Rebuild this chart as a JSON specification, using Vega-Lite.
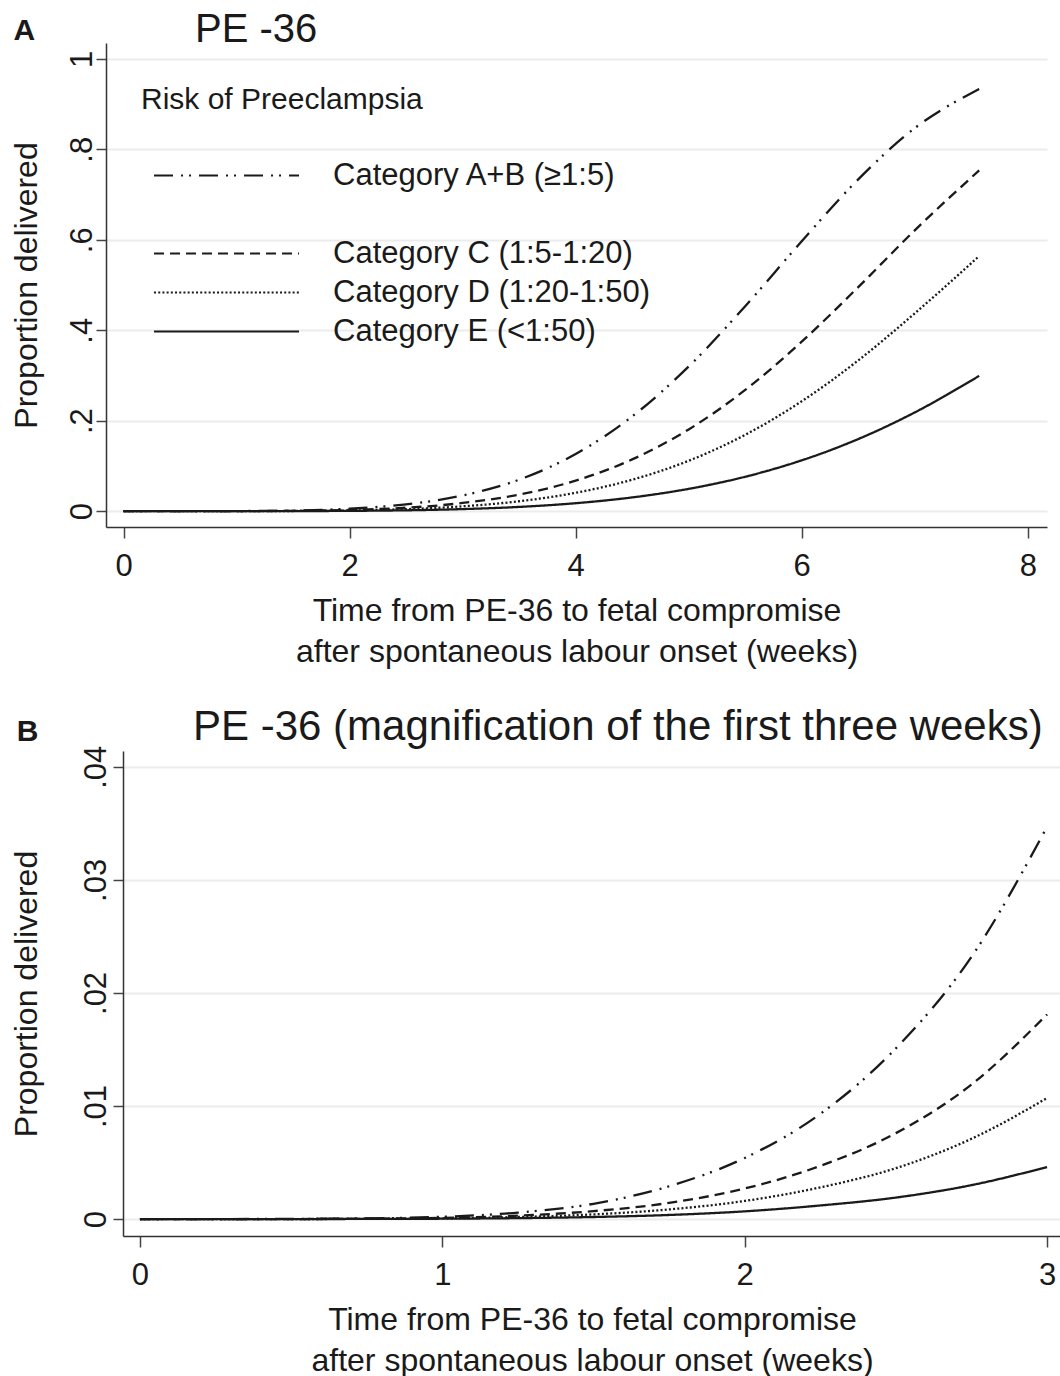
{
  "$schema": "https://vega.github.io/schema/vega-lite/v6.json",
  "background": "white",
  "padding": {"left": 9, "top": 9, "right": 0, "bottom": 0},
  "config": {
    "font": "Liberation Sans",
    "view": {"stroke": null},
    "axis": {
      "domainColor": "#333333", "domainWidth": 1.5,
      "tickColor": "#444444", "tickWidth": 1.5,
      "labelColor": "#1a1a1a", "titleColor": "#1a1a1a",
      "labelFontSize": 31, "titleFontSize": 32, "titleFontWeight": "normal",
      "gridColor": "#ececec", "gridWidth": 2
    },
    "title": {"color": "#1a1a1a", "fontWeight": "normal"}
  },
  "datasets": {
    "curves": [
      {"weeks": 0, "Category A+B (≥1:5)": 0, "Category C (1:5-1:20)": 0, "Category D (1:20-1:50)": 0, "Category E (<1:50)": 0},
      {"weeks": 0.25, "Category A+B (≥1:5)": 0, "Category C (1:5-1:20)": 0, "Category D (1:20-1:50)": 0, "Category E (<1:50)": 0},
      {"weeks": 0.5, "Category A+B (≥1:5)": 0.00001, "Category C (1:5-1:20)": 0, "Category D (1:20-1:50)": 0, "Category E (<1:50)": 0},
      {"weeks": 0.75, "Category A+B (≥1:5)": 0.00005, "Category C (1:5-1:20)": 0.00003, "Category D (1:20-1:50)": 0.00002, "Category E (<1:50)": 0.00001},
      {"weeks": 1, "Category A+B (≥1:5)": 0.0002, "Category C (1:5-1:20)": 0.0001, "Category D (1:20-1:50)": 0.00006, "Category E (<1:50)": 0.00003},
      {"weeks": 1.25, "Category A+B (≥1:5)": 0.00057, "Category C (1:5-1:20)": 0.0003, "Category D (1:20-1:50)": 0.00018, "Category E (<1:50)": 0.00008},
      {"weeks": 1.5, "Category A+B (≥1:5)": 0.00135, "Category C (1:5-1:20)": 0.0007, "Category D (1:20-1:50)": 0.00041, "Category E (<1:50)": 0.00018},
      {"weeks": 1.75, "Category A+B (≥1:5)": 0.0029, "Category C (1:5-1:20)": 0.00143, "Category D (1:20-1:50)": 0.00085, "Category E (<1:50)": 0.00036},
      {"weeks": 2, "Category A+B (≥1:5)": 0.0054, "Category C (1:5-1:20)": 0.0027, "Category D (1:20-1:50)": 0.0016, "Category E (<1:50)": 0.00068},
      {"weeks": 2.25, "Category A+B (≥1:5)": 0.0093, "Category C (1:5-1:20)": 0.0047, "Category D (1:20-1:50)": 0.0028, "Category E (<1:50)": 0.0012},
      {"weeks": 2.5, "Category A+B (≥1:5)": 0.0151, "Category C (1:5-1:20)": 0.0076, "Category D (1:20-1:50)": 0.0045, "Category E (<1:50)": 0.0019},
      {"weeks": 2.75, "Category A+B (≥1:5)": 0.0232, "Category C (1:5-1:20)": 0.0119, "Category D (1:20-1:50)": 0.0071, "Category E (<1:50)": 0.003},
      {"weeks": 3, "Category A+B (≥1:5)": 0.0347, "Category C (1:5-1:20)": 0.0181, "Category D (1:20-1:50)": 0.0107, "Category E (<1:50)": 0.0046},
      {"weeks": 3.5, "Category A+B (≥1:5)": 0.0696, "Category C (1:5-1:20)": 0.0366, "Category D (1:20-1:50)": 0.0219, "Category E (<1:50)": 0.0094},
      {"weeks": 4, "Category A+B (≥1:5)": 0.1264, "Category C (1:5-1:20)": 0.0675, "Category D (1:20-1:50)": 0.0406, "Category E (<1:50)": 0.0176},
      {"weeks": 4.5, "Category A+B (≥1:5)": 0.2094, "Category C (1:5-1:20)": 0.1144, "Category D (1:20-1:50)": 0.0695, "Category E (<1:50)": 0.0304},
      {"weeks": 5, "Category A+B (≥1:5)": 0.3198, "Category C (1:5-1:20)": 0.1807, "Category D (1:20-1:50)": 0.1114, "Category E (<1:50)": 0.0493},
      {"weeks": 5.5, "Category A+B (≥1:5)": 0.4531, "Category C (1:5-1:20)": 0.268, "Category D (1:20-1:50)": 0.1688, "Category E (<1:50)": 0.0761},
      {"weeks": 6, "Category A+B (≥1:5)": 0.5968, "Category C (1:5-1:20)": 0.3747, "Category D (1:20-1:50)": 0.243, "Category E (<1:50)": 0.1124},
      {"weeks": 6.5, "Category A+B (≥1:5)": 0.7335, "Category C (1:5-1:20)": 0.4953, "Category D (1:20-1:50)": 0.3333, "Category E (<1:50)": 0.1594},
      {"weeks": 7, "Category A+B (≥1:5)": 0.8468, "Category C (1:5-1:20)": 0.6209, "Category D (1:20-1:50)": 0.4373, "Category E (<1:50)": 0.2183},
      {"weeks": 7.57, "Category A+B (≥1:5)": 0.9334, "Category C (1:5-1:20)": 0.7534, "Category D (1:20-1:50)": 0.564, "Category E (<1:50)": 0.2991}
    ]
  },
  "concat": [
    {
      "hconcat": [
        {"width": 1, "height": 1, "data": {"values": []}, "mark": {"type": "point", "opacity": 0}},
        {
          "width": 941,
          "height": 484,
          "title": {"text": "PE -36", "anchor": "start", "frame": "group", "dx": 89, "fontSize": 40, "baseline": "alphabetic", "offset": -66},
          "layer": [
            {
              "data": {"name": "curves"},
              "transform": [{"fold": ["Category A+B (≥1:5)", "Category C (1:5-1:20)", "Category D (1:20-1:50)", "Category E (<1:50)"], "as": ["category", "proportion"]}],
              "mark": {"type": "line", "interpolate": "monotone", "strokeWidth": 2.3, "color": "#1a1a1a"},
              "encoding": {
                "x": {"field": "weeks", "type": "quantitative",
                  "scale": {"domain": [-0.155, 8.17], "nice": false, "zero": false},
                  "axis": {"values": [0, 2, 4, 6, 8], "format": "d", "grid": false, "tickSize": 11, "labelPadding": 13,
                    "title": ["Time from PE-36 to fetal compromise", "after spontaneous labour onset (weeks)"],
                    "titleLineHeight": 41, "titlePadding": 14}},
                "y": {"field": "proportion", "type": "quantitative",
                  "scale": {"domain": [-0.035, 1.035], "nice": false, "zero": false},
                  "axis": {"values": [0, 0.2, 0.4, 0.6, 0.8, 1], "grid": true, "tickSize": 10,
                    "labelAngle": -90, "labelAlign": "center", "labelBaseline": "alphabetic", "labelPadding": 5,
                    "labelExpr": "datum.value == 0 ? '0' : datum.value == 1 ? '1' : '.' + round(datum.value * 10)",
                    "title": "Proportion delivered", "titlePadding": 23}},
                "strokeDash": {"field": "category", "type": "nominal",
                  "scale": {"domain": ["Category A+B (≥1:5)", " ", "Category C (1:5-1:20)", "Category D (1:20-1:50)", "Category E (<1:50)"],
                    "range": [[19, 8, 2, 6, 2, 8], [0, 1000], [10, 6], [2, 2.2], [1, 0]]},
                  "legend": {"orient": "none", "legendX": 35, "legendY": 42, "padding": 0,
                    "title": "Risk of Preeclampsia", "titleFontSize": 30, "titleFontWeight": "normal", "titleColor": "#1a1a1a", "titlePadding": 45, "titleLimit": 0,
                    "labelFontSize": 31, "labelColor": "#1a1a1a", "labelOffset": 161, "labelLimit": 0,
                    "symbolType": "M-0.17,0H9.83", "symbolSize": 841, "symbolStrokeWidth": 2, "symbolStrokeColor": "#1a1a1a",
                    "rowPadding": 7}}
              }
            },
            {
              "data": {"values": [{"panel": "A"}]},
              "mark": {"type": "text", "fontSize": 30, "fontWeight": "bold", "align": "left", "baseline": "alphabetic", "color": "#1a1a1a"},
              "encoding": {"text": {"field": "panel"}, "x": {"datum": -0.974}, "y": {"datum": 1.042}}
            }
          ]
        }
      ],
      "spacing": 0,
      "resolve": {"scale": {"x": "independent", "y": "independent", "strokeDash": "independent"}, "legend": {"strokeDash": "independent"}}
    },
    {
      "hconcat": [
        {"width": 1, "height": 1, "data": {"values": []}, "mark": {"type": "point", "opacity": 0}},
        {
          "width": 938,
          "height": 485,
          "title": {"text": "PE -36 (magnification of the first three weeks)", "anchor": "start", "frame": "group", "dx": 70, "fontSize": 42, "baseline": "alphabetic", "offset": -65},
          "layer": [
            {
              "data": {"name": "curves"},
              "transform": [
                {"filter": "datum.weeks <= 3"},
                {"fold": ["Category A+B (≥1:5)", "Category C (1:5-1:20)", "Category D (1:20-1:50)", "Category E (<1:50)"], "as": ["category", "proportion"]}
              ],
              "mark": {"type": "line", "interpolate": "monotone", "strokeWidth": 2.3, "color": "#1a1a1a"},
              "encoding": {
                "x": {"field": "weeks", "type": "quantitative",
                  "scale": {"domain": [-0.056, 3.046], "nice": false, "zero": false},
                  "axis": {"values": [0, 1, 2, 3], "format": "d", "grid": false, "tickSize": 11, "labelPadding": 13,
                    "title": ["Time from PE-36 to fetal compromise", "after spontaneous labour onset (weeks)"],
                    "titleLineHeight": 41, "titlePadding": 14}},
                "y": {"field": "proportion", "type": "quantitative",
                  "scale": {"domain": [-0.0015, 0.0414], "nice": false, "zero": false},
                  "axis": {"values": [0, 0.01, 0.02, 0.03, 0.04], "grid": true, "tickSize": 10,
                    "labelAngle": -90, "labelAlign": "center", "labelBaseline": "alphabetic", "labelPadding": 7.5,
                    "labelExpr": "datum.value == 0 ? '0' : '.0' + round(datum.value * 100)",
                    "title": "Proportion delivered", "titlePadding": 37}},
                "strokeDash": {"field": "category", "type": "nominal",
                  "scale": {"domain": ["Category A+B (≥1:5)", " ", "Category C (1:5-1:20)", "Category D (1:20-1:50)", "Category E (<1:50)"],
                    "range": [[19, 8, 2, 6, 2, 8], [0, 1000], [10, 6], [2, 2.2], [1, 0]]},
                  "legend": null}
              }
            },
            {
              "data": {"values": [{"panel": "B"}]},
              "mark": {"type": "text", "fontSize": 30, "fontWeight": "bold", "align": "left", "baseline": "alphabetic", "color": "#1a1a1a"},
              "encoding": {"text": {"field": "panel"}, "x": {"datum": -0.4076}, "y": {"datum": 0.0423}}
            }
          ]
        }
      ],
      "spacing": 0,
      "resolve": {"scale": {"x": "independent", "y": "independent", "strokeDash": "independent"}, "legend": {"strokeDash": "independent"}}
    }
  ],
  "columns": 1,
  "spacing": 38,
  "align": "none",
  "bounds": "full",
  "resolve": {
    "scale": {"x": "independent", "y": "independent", "strokeDash": "independent"},
    "axis": {"x": "independent", "y": "independent"},
    "legend": {"strokeDash": "independent"}
  }
}
